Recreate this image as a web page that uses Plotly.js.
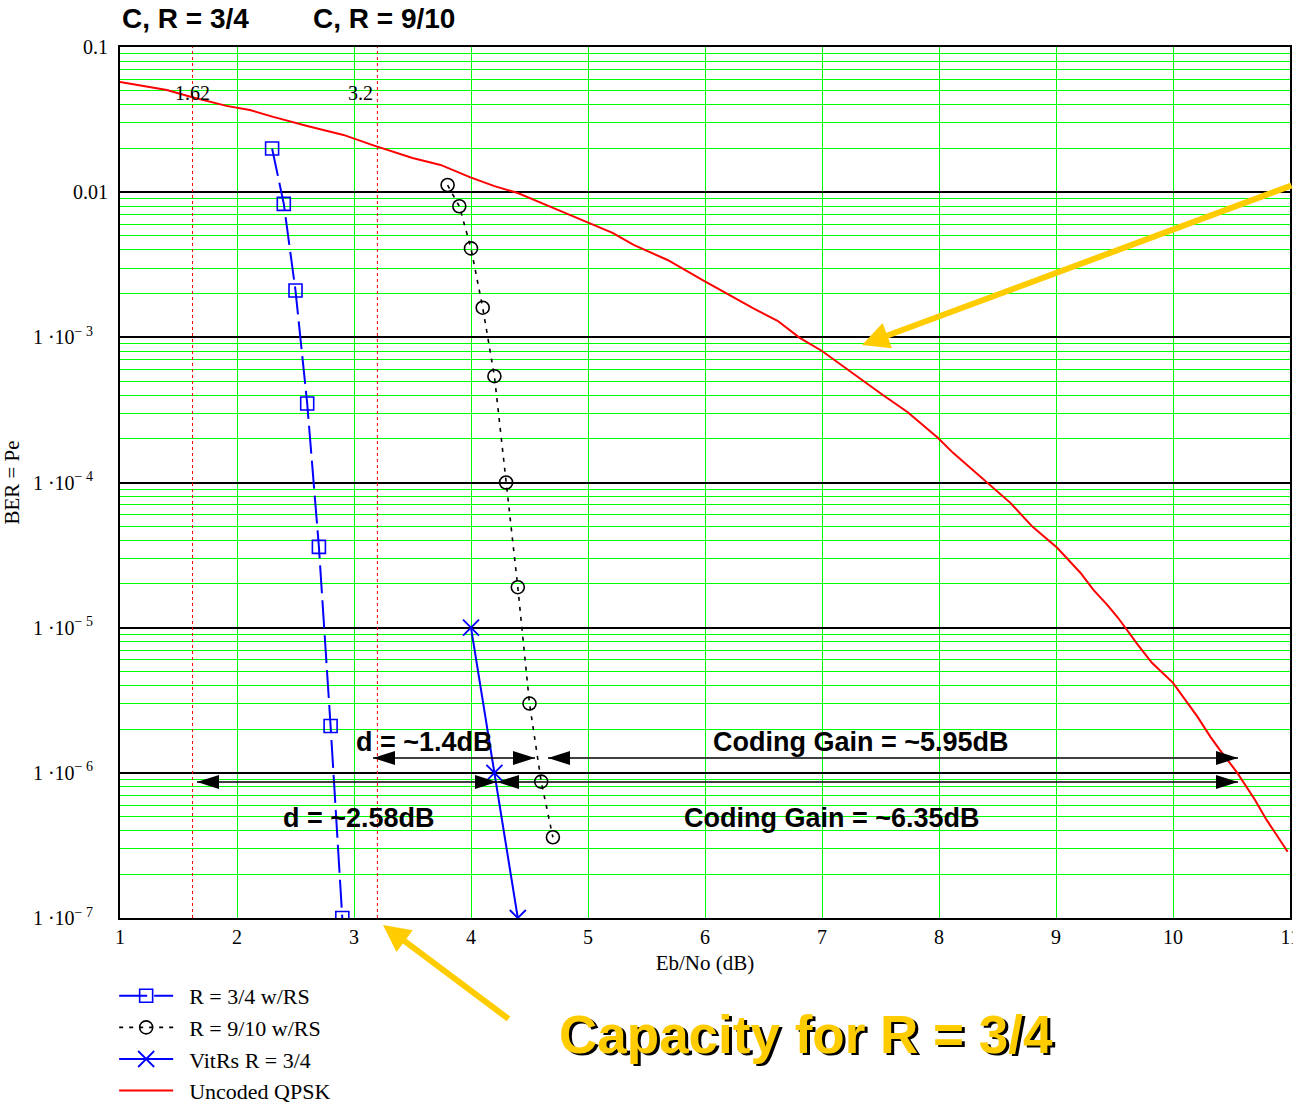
<!DOCTYPE html>
<html>
<head>
<meta charset="utf-8">
<script src="https://cdn.plot.ly/plotly-3.0.1.min.js"></script>
<style>html,body{margin:0;padding:0;background:#fff;}#chart{width:1293px;height:1105px;}</style>
</head>
<body>
<div id="chart"></div>
<script>
// ---- data ----
const ebRs34 = [2.3, 2.4, 2.5, 2.6, 2.7, 2.8, 2.9];
const berRs34 = [2.0e-2, 8.3e-3, 2.1e-3, 3.5e-4, 3.6e-5, 2.1e-6, 1.0e-7];

const ebRs910 = [3.8, 3.9, 4.0, 4.1, 4.2, 4.3, 4.4, 4.5, 4.6, 4.7];
const berRs910 = [1.12e-2, 8.0e-3, 4.1e-3, 1.6e-3, 5.4e-4, 1.0e-4, 1.9e-5, 3.0e-6, 8.7e-7, 3.6e-7];

const ebVit = [4.0, 4.2, 4.4];
const berVit = [1.0e-5, 1.0e-6, 1.0e-7];

const ebQpsk = [1.00, 1.40, 1.61, 1.91, 2.11, 2.31, 2.60, 2.91, 3.16, 3.50, 3.74, 3.99, 4.20, 4.40,
  4.62, 4.82, 4.99, 5.21, 5.39, 5.68, 5.98, 6.21, 6.41, 6.62, 6.81, 7.00, 7.33, 7.52, 7.73, 7.99,
  8.12, 8.29, 8.41, 8.61, 8.80, 9.01, 9.21, 9.32, 9.44, 9.53, 9.70, 9.82, 10.00, 10.12,
  10.21, 10.32, 10.40, 10.55, 10.70, 10.80, 10.98];
const berQpsk = [5.74e-2, 5.06e-2, 4.53e-2, 3.93e-2, 3.68e-2, 3.30e-2, 2.86e-2, 2.48e-2, 2.11e-2, 1.72e-2, 1.54e-2, 1.27e-2, 1.10e-2, 9.87e-3,
  8.30e-3, 7.08e-3, 6.24e-3, 5.24e-3, 4.33e-3, 3.41e-3, 2.48e-3, 1.96e-3, 1.59e-3, 1.30e-3, 9.91e-4, 8.05e-4, 5.16e-4, 4.01e-4, 3.06e-4, 2.03e-4,
  1.60e-4, 1.22e-4, 9.94e-5, 7.24e-5, 4.95e-5, 3.55e-5, 2.38e-5, 1.82e-5, 1.43e-5, 1.17e-5, 7.61e-6, 5.73e-6, 4.17e-6, 3.03e-6,
  2.43e-6, 1.77e-6, 1.44e-6, 1.00e-6, 6.52e-7, 4.74e-7, 2.86e-7];

const xTickVals = [1, 2, 3, 4, 5, 6, 7, 8, 9, 10, 11];
const xTickText = ['1', '2', '3', '4', '5', '6', '7', '8', '9', '10', '11'];
const yTickVals = [1e-7, 1e-6, 1e-5, 1e-4, 1e-3, 1e-2, 1e-1];
const yTickText = ['1 ·10<sup>− 7</sup>&nbsp;&nbsp;&nbsp;', '1 ·10<sup>− 6</sup>&nbsp;&nbsp;&nbsp;', '1 ·10<sup>− 5</sup>&nbsp;&nbsp;&nbsp;',
  '1 ·10<sup>− 4</sup>&nbsp;&nbsp;&nbsp;', '1 ·10<sup>− 3</sup>&nbsp;&nbsp;&nbsp;', '0.01', '0.1'];
const minorDigits = [2, 3, 4, 5, 6, 7, 8, 9];
const decadeExps = [-7, -6, -5, -4, -3, -2];

const capacityLines = [1.62, 3.2];
const capacityLabels = ['1.62', '3.2'];

const seriesNames = ['R = 3/4 w/RS', 'R = 9/10 w/RS', 'VitRs R = 3/4', 'Uncoded QPSK'];

// ---- build ----
const minorVals = [];
decadeExps.forEach(e => minorDigits.forEach(d => minorVals.push(d * Math.pow(10, e))));

const serif = 'Liberation Serif, Times New Roman, serif';
const sans = 'Liberation Sans, Arial, sans-serif';
const pad = s => '&nbsp;&nbsp;' + s;

const traces = [
  {x: ebRs34, y: berRs34, name: pad(seriesNames[0]), mode: 'lines+markers', type: 'scatter',
   line: {color: '#0000ff', width: 2, dash: '28px,7px'},
   marker: {symbol: 'square-open', size: 13, color: '#0000ff', line: {width: 1.6, color: '#0000ff'}}},
  {x: ebRs910, y: berRs910, name: pad(seriesNames[1]), mode: 'lines+markers', type: 'scatter',
   line: {color: '#000000', width: 1.6, dash: '4px,6px'},
   marker: {symbol: 'circle-open', size: 13, color: '#000000', line: {width: 1.6, color: '#000000'}}},
  {x: ebVit, y: berVit, name: pad(seriesNames[2]), mode: 'lines+markers', type: 'scatter',
   line: {color: '#0000ff', width: 2},
   marker: {symbol: 'x-thin-open', size: 16, color: '#0000ff', line: {width: 1.8, color: '#0000ff'}}},
  {x: ebQpsk, y: berQpsk, name: pad(seriesNames[3]), mode: 'lines', type: 'scatter',
   line: {color: '#ff0000', width: 2}},
  {x: [], y: [], yaxis: 'y2', showlegend: false, hoverinfo: 'skip', type: 'scatter'}
];

const shapes = [];
capacityLines.forEach(v => shapes.push({type: 'line', xref: 'x', yref: 'paper', x0: v, x1: v, y0: 0, y1: 1,
  line: {color: '#ff0000', width: 1, dash: 'dot'}}));

// dimension arrows (pixel based layout helpers)
const pxToX = px => 1 + (px - 120) / 117;
const pyToP = py => (918 - py) / 871;
function hline(px0, px1, py) {
  shapes.push({type: 'line', xref: 'x', yref: 'paper', x0: pxToX(px0), x1: pxToX(px1), y0: pyToP(py), y1: pyToP(py),
    line: {color: '#000', width: 1.3}});
}
function tri(tipPx, py, dir) { // dir=-1 points left, +1 points right
  const base = tipPx - dir * 22;
  const t = pxToX(tipPx), b = pxToX(base), yc = pyToP(py), h = 7 / 871;
  shapes.push({type: 'path', xref: 'x', yref: 'paper',
    path: `M ${t},${yc} L ${b},${yc + h} L ${b},${yc - h} Z`, fillcolor: '#000', line: {width: 0}});
}
hline(373, 535, 758); hline(548, 1238, 758);
tri(373, 758, -1); tri(535, 758, 1); tri(548, 758, -1); tri(1238, 758, 1);
hline(197, 497, 782); hline(497, 1238, 782);
tri(197, 782, -1); tri(497, 782, 1); tri(497, 782, -1); tri(1238, 782, 1);

const annotations = [];
capacityLines.forEach((v, i) => annotations.push({
  x: v, xref: 'x', y: pyToP(93), yref: 'paper', text: capacityLabels[i], showarrow: false,
  xanchor: i === 0 ? 'center' : 'right', xshift: i === 0 ? 0 : -2, yanchor: 'middle',
  font: {family: serif, size: 20, color: '#000'}}));

function boldText(txt, px, py, size) {
  annotations.push({x: pxToX(px), xref: 'x', y: pyToP(py), yref: 'paper', text: '<b>' + txt + '</b>', showarrow: false,
    xanchor: 'center', yanchor: 'middle', font: {family: sans, size: size, color: '#000'}});
}
boldText('d = ~1.4dB', 424, 742, 27);
boldText('Coding Gain = ~5.95dB', 861, 742, 27);
boldText('d = ~2.58dB', 359, 818, 27);
boldText('Coding Gain = ~6.35dB', 832, 818, 27);

annotations.push({x: 0, xref: 'paper', y: pyToP(19), yref: 'paper', text: '<b>C, R = 3/4</b>', showarrow: false,
  xanchor: 'left', yanchor: 'middle', font: {family: sans, size: 28, color: '#000'}});
annotations.push({x: (311 - 120) / 1170, xref: 'paper', y: pyToP(19), yref: 'paper', text: '<b>C, R = 9/10</b>', showarrow: false,
  xanchor: 'left', yanchor: 'middle', font: {family: sans, size: 28, color: '#000'}});

// yellow pointer arrows
annotations.push({x: (862 - 120) / 1170, xref: 'paper', y: pyToP(345), yref: 'paper', text: '', showarrow: true,
  ax: 431, ay: -160, arrowcolor: '#ffcc00', arrowwidth: 6, arrowhead: 2, arrowsize: 0.9, standoff: 0});
annotations.push({x: (383 - 120) / 1170, xref: 'paper', y: pyToP(925), yref: 'paper', text: '', showarrow: true,
  ax: 127, ay: 95, arrowcolor: '#ffcc00', arrowwidth: 6, arrowhead: 2, arrowsize: 0.9, standoff: 0});

// "Capacity for R = 3/4" with shadow
const capX = (806 - 120) / 1170, capY = pyToP(1034);
annotations.push({x: capX, xref: 'paper', y: capY, yref: 'paper', text: '<b>Capacity for R = 3/4</b>', showarrow: false,
  xanchor: 'center', yanchor: 'middle', xshift: 2.5, yshift: -2.5, font: {family: sans, size: 53, color: '#000'}});
annotations.push({x: capX, xref: 'paper', y: capY, yref: 'paper', text: '<b>Capacity for R = 3/4</b>', showarrow: false,
  xanchor: 'center', yanchor: 'middle', font: {family: sans, size: 53, color: '#ffcc00'}});

const layout = {
  width: 1293, height: 1105,
  margin: {l: 120, r: 3, t: 47, b: 187, autoexpand: false},
  paper_bgcolor: '#fff', plot_bgcolor: '#fff',
  showlegend: true,
  legend: {x: -0.005, xanchor: 'left', yref: 'container', y: (1105 - 975) / 1105, yanchor: 'top', bgcolor: 'rgba(0,0,0,0)',
    font: {family: serif, size: 22, color: '#000'}, itemwidth: 54, tracegroupgap: 0},
  xaxis: {range: [1, 11], tickmode: 'array', tickvals: xTickVals, ticktext: xTickText, automargin: false,
    ticklabeloverflow: 'allow',
    showgrid: true, gridcolor: '#00ff00', gridwidth: 1, zeroline: false,
    showline: true, linecolor: '#000', linewidth: 2, mirror: true, ticks: '',
    tickfont: {family: serif, size: 20, color: '#000'},
    title: {text: 'Eb/No (dB)', font: {family: serif, size: 21, color: '#000'}, standoff: 15}},
  yaxis: {type: 'log', range: [-7, -1], tickmode: 'array', tickvals: yTickVals, ticktext: yTickText, automargin: false,
    ticklabeloverflow: 'allow',
    showgrid: true, gridcolor: '#000', gridwidth: 2, zeroline: false,
    showline: true, linecolor: '#000', linewidth: 2, mirror: true, ticks: '',
    tickfont: {family: serif, size: 20, color: '#000'}, ticklabelstandoff: 6,
    title: {text: 'BER = Pe', font: {family: serif, size: 21, color: '#000'}, standoff: 11}},
  yaxis2: {type: 'log', range: [-7, -1], overlaying: 'y', side: 'left', tickmode: 'array', tickvals: minorVals, automargin: false,
    showticklabels: false, showgrid: true, gridcolor: '#00ff00', gridwidth: 1, zeroline: false, showline: false, ticks: ''},
  shapes: shapes,
  annotations: annotations
};

Plotly.newPlot('chart', traces, layout, {displayModeBar: false, staticPlot: true});
</script>
</body>
</html>
